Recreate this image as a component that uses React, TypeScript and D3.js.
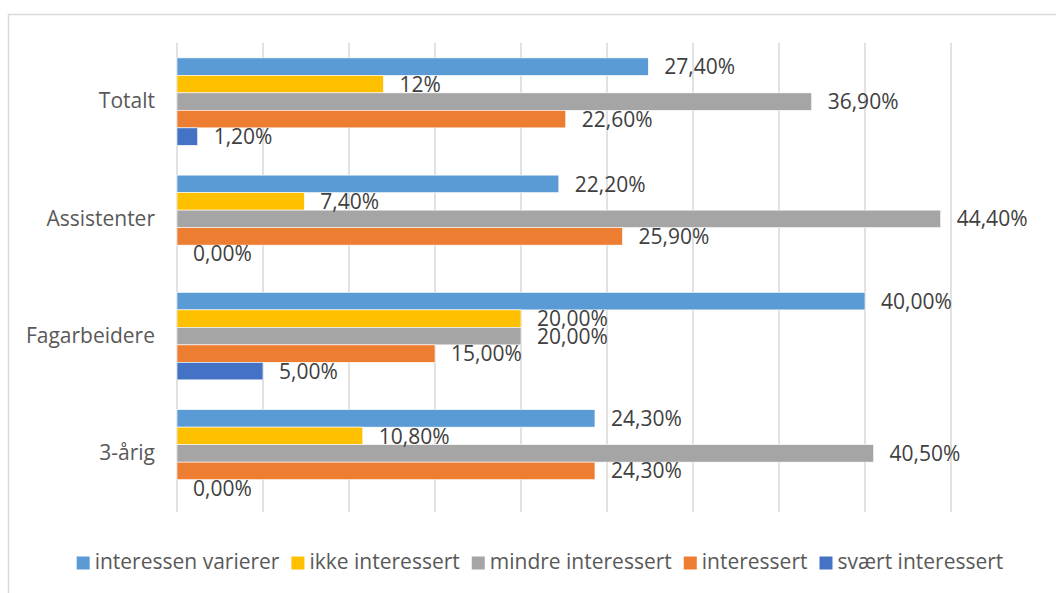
import React, { useEffect, useRef } from "react";
import * as d3 from "d3";

const categories = ["Totalt", "Assistenter", "Fagarbeidere", "3-årig"];
const seriesNames = [
  "interessen varierer",
  "ikke interessert",
  "mindre interessert",
  "interessert",
  "svært interessert",
];
const seriesColors = ["#5B9BD5", "#FFC000", "#A5A5A5", "#ED7D31", "#4472C4"];

// values per series, in category order
const interessenVarierer = [27.4, 22.2, 40.0, 24.3];
const ikkeInteressert = [12.0, 7.4, 20.0, 10.8];
const mindreInteressert = [36.9, 44.4, 20.0, 40.5];
const interessert = [22.6, 25.9, 15.0, 24.3];
const svaertInteressert = [1.2, 0.0, 5.0, 0.0];

// data labels as shown in the chart
const interessenVarierer_labels = ["27,40%", "22,20%", "40,00%", "24,30%"];
const ikkeInteressert_labels = ["12%", "7,40%", "20,00%", "10,80%"];
const mindreInteressert_labels = ["36,90%", "44,40%", "20,00%", "40,50%"];
const interessert_labels = ["22,60%", "25,90%", "15,00%", "24,30%"];
const svaertInteressert_labels = ["1,20%", "0,00%", "5,00%", "0,00%"];

const xTicks = [0, 5, 10, 15, 20, 25, 30, 35, 40, 45];

const seriesValues = [
  interessenVarierer,
  ikkeInteressert,
  mindreInteressert,
  interessert,
  svaertInteressert,
];
const seriesLabels = [
  interessenVarierer_labels,
  ikkeInteressert_labels,
  mindreInteressert_labels,
  interessert_labels,
  svaertInteressert_labels,
];

const W = 1056;
const H = 593;
const FONT = "'Open Sans', 'Liberation Sans', sans-serif";
const FS = 21;

export default function App() {
  const ref = useRef<SVGSVGElement>(null);

  useEffect(() => {
    const svg = d3.select(ref.current);
    svg.selectAll("*").remove();

    // chart frame
    svg
      .append("rect")
      .attr("x", 8.5)
      .attr("y", 14.5)
      .attr("width", W + 20)
      .attr("height", H + 20)
      .attr("fill", "#fff")
      .attr("stroke", "#D9D9D9")
      .attr("stroke-width", 1.5);

    const x = d3.scaleLinear().domain([0, 45]).range([177, 951]);
    const y0 = d3
      .scaleBand<string>()
      .domain(categories)
      .range([43, 512])
      .paddingInner(0.254)
      .paddingOuter(0.127);
    const y1 = d3
      .scaleBand<number>()
      .domain(d3.range(seriesNames.length))
      .range([0, y0.bandwidth()]);

    // gridlines
    svg
      .append("g")
      .selectAll("line")
      .data(xTicks)
      .join("line")
      .attr("x1", (d) => x(d))
      .attr("x2", (d) => x(d))
      .attr("y1", 43)
      .attr("y2", 512)
      .attr("stroke", "#D9D9D9")
      .attr("stroke-width", 1.5);

    // bars
    const groups = svg
      .append("g")
      .selectAll("g")
      .data(categories)
      .join("g")
      .attr("transform", (c) => `translate(0,${y0(c)})`);

    groups.each(function (c, ci) {
      const g = d3.select(this);
      seriesNames.forEach((s, si) => {
        const v = seriesValues[si][ci];
        const by = y1(si)!;
        if (v > 0) {
          g.append("rect")
            .attr("x", x(0))
            .attr("y", by)
            .attr("width", x(v) - x(0))
            .attr("height", y1.bandwidth())
            .attr("fill", seriesColors[si])
            .attr("stroke", "#fff")
            .attr("stroke-width", 0.6);
        }
      });
    });

    groups.each(function (c, ci) {
      const g = d3.select(this);
      seriesNames.forEach((s, si) => {
        const v = seriesValues[si][ci];
        const by = y1(si)!;
        g.append("text")
          .attr("x", x(v) + 16)
          .attr("y", by + y1.bandwidth() / 2 + 2)
          .attr("dominant-baseline", "middle")
          .attr("font-family", FONT)
          .attr("font-size", FS)
          .attr("fill", "#404040")
          .text(seriesLabels[si][ci]);
      });
    });

    // category labels
    svg
      .append("g")
      .selectAll("text")
      .data(categories)
      .join("text")
      .attr("x", 155)
      .attr("y", (c) => y0(c)! + y0.bandwidth() / 2 + 1)
      .attr("text-anchor", "end")
      .attr("dominant-baseline", "middle")
      .attr("font-family", FONT)
      .attr("font-size", FS)
      .attr("fill", "#595959")
      .text((c) => c);

    // legend
    const legend = svg.append("g");
    const sq = 13;
    const gapSqText = 5;
    const gapItems = 12;
    const items = seriesNames.map((name, i) => {
      const g = legend.append("g");
      g.append("rect")
        .attr("width", sq)
        .attr("height", sq)
        .attr("y", -sq / 2)
        .attr("fill", seriesColors[i]);
      const t = g
        .append("text")
        .attr("x", sq + gapSqText)
        .attr("dominant-baseline", "middle")
        .attr("font-family", FONT)
        .attr("font-size", FS)
        .attr("fill", "#595959")
        .text(name);
      const w = (t.node() as SVGTextElement).getComputedTextLength();
      return { g, w: sq + gapSqText + w };
    });
    const total =
      d3.sum(items, (d) => d.w) + gapItems * (items.length - 1);
    let cx = 540 - total / 2;
    items.forEach((it) => {
      it.g.attr("transform", `translate(${cx},563)`);
      cx += it.w + gapItems;
    });
  }, []);

  return (
    <svg
      ref={ref}
      width={W}
      height={H}
      style={{ position: "absolute", left: 0, top: 0, background: "#fff" }}
    />
  );
}
